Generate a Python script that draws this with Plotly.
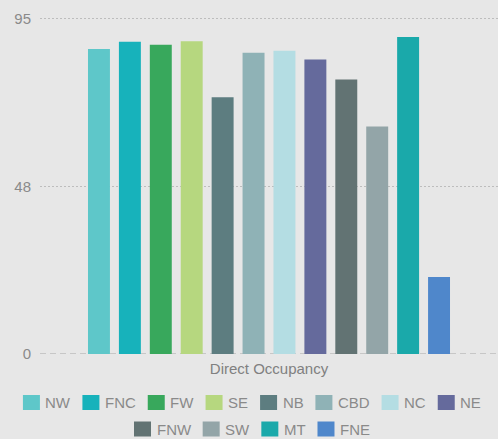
import plotly.graph_objects as go

# Direct occupancy by region
category = ["Direct Occupancy"]
regions = ["NW", "FNC", "FW", "SE", "NB", "CBD", "NC", "NE", "FNW", "SW", "MT", "FNE"]
occupancy = [86.4, 88.4, 87.6, 88.6, 72.7, 85.3, 85.9, 83.4, 77.7, 64.4, 89.8, 21.8]
colors = ["#5ec7c9", "#17b2bb", "#38a85c", "#b6d77f", "#5d7d80", "#8fb2b6",
          "#b4dde3", "#656a9c", "#627373", "#93a5a8", "#1aa9aa", "#4f87cb"]

tick_vals = [0, 47.5, 95]
tick_text = ["0", "48", "95"]

# page geometry (pixels)
W, H = 498, 439
ML, MR, MT_, MB = 40, 0, 15, 85
PW, PH = W - ML - MR, H - MT_ - MB

TEXT_GRAY = "#8a8a8a"
FONT = "Liberation Sans, Arial, sans-serif"

fig = go.Figure()
for name, val, col in zip(regions, occupancy, colors):
    fig.add_trace(go.Bar(
        x=category, y=[val], name=name, showlegend=False,
        marker=dict(color=col, line=dict(width=0)),
    ))

# dashed baseline at zero
fig.add_shape(type="line", xref="paper", x0=0, x1=1, yref="y", y0=0, y1=0,
              line=dict(color="#a6a6a6", width=1, dash="6px,4px"), layer="below")

# two-row centred legend: swatch + label, widths from Arial glyph metrics
glyph = {"N": 722, "W": 944, "F": 611, "C": 722, "E": 667, "S": 667,
         "B": 667, "D": 722, "M": 833, "T": 611}
legend_size = 15
swatch_w, swatch_h, swatch_gap, entry_gap = 17, 15, 3.5, 14
rows = [(regions[:8], colors[:8], 402.5), (regions[8:], colors[8:], 429)]
centre_px = 251


def px_to_paper_x(px):
    return (px - ML) / PW


def px_to_paper_y(py):
    return (H - MB - py) / PH


for names, cols, row_y in rows:
    widths = [swatch_w + swatch_gap + sum(glyph[c] for c in n) * legend_size / 1000
              for n in names]
    total = sum(widths) + entry_gap * (len(names) - 1)
    x = centre_px - total / 2
    for n, c, w in zip(names, cols, widths):
        fig.add_shape(type="rect", xref="paper", yref="paper",
                      x0=px_to_paper_x(x), x1=px_to_paper_x(x + swatch_w),
                      y0=px_to_paper_y(row_y + swatch_h / 2),
                      y1=px_to_paper_y(row_y - swatch_h / 2),
                      fillcolor=c, line=dict(width=0))
        fig.add_annotation(text=n, xref="paper", yref="paper",
                           x=px_to_paper_x(x + swatch_w + swatch_gap),
                           y=px_to_paper_y(row_y), xanchor="left", yanchor="middle",
                           showarrow=False,
                           font=dict(family=FONT, size=legend_size, color=TEXT_GRAY))
        x += w + entry_gap

fig.update_layout(
    width=W, height=H,
    paper_bgcolor="#e7e7e7", plot_bgcolor="#e7e7e7",
    margin=dict(l=ML, r=MR, t=MT_, b=MB, autoexpand=False),
    barmode="group", bargap=0.19, bargroupgap=0.29,
    font=dict(family=FONT, color=TEXT_GRAY),
    showlegend=False,
    xaxis=dict(showgrid=False, zeroline=False, showline=False, ticks="",
               ticklabelstandoff=4,
               tickfont=dict(family=FONT, size=15, color="#808080")),
    yaxis=dict(range=[0, 96], tickvals=tick_vals, ticktext=tick_text,
               showgrid=True, gridcolor="#bdbdbd", griddash="2px,2px", gridwidth=1,
               zeroline=False, showline=False, ticks="", ticklabelstandoff=8,
               tickfont=dict(family=FONT, size=15, color=TEXT_GRAY)),
)

fig.write_html("out.html")
